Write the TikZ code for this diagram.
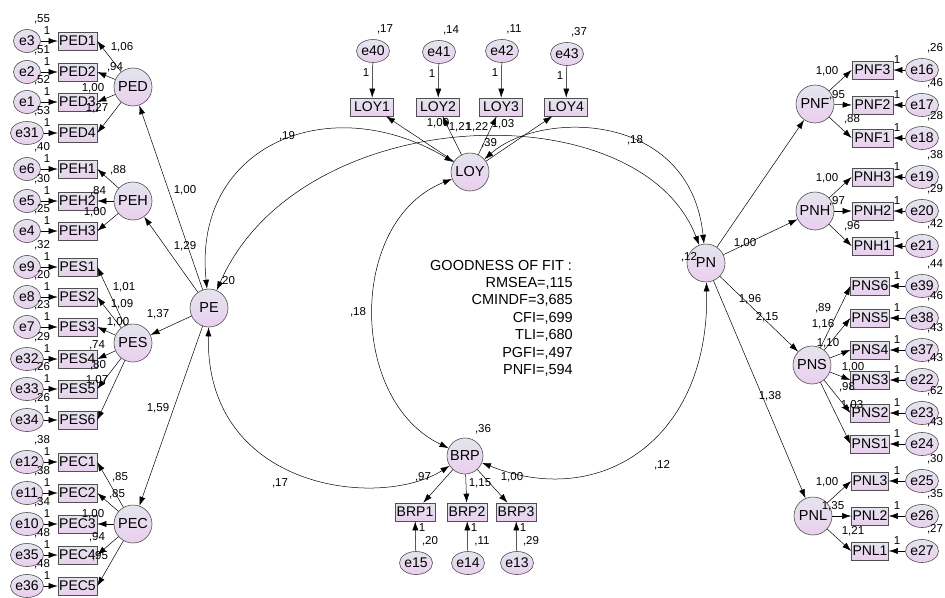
\documentclass[tikz,border=0pt]{standalone}
\usepackage{fontspec}
\setmainfont{Liberation Sans}
\usetikzlibrary{arrows.meta,shapes.geometric}
\definecolor{nodetop}{HTML}{E4E4EE}
\definecolor{nodebot}{HTML}{EACFEE}
\definecolor{edgec}{HTML}{505050}
\begin{document}
\begin{tikzpicture}[x=1pt,y=-1pt,
  base/.style={draw=edgec, line width=0.6pt, top color=nodetop, bottom color=nodebot, inner sep=0pt},
  lat/.style={base, circle, minimum size=38pt, font=\fontsize{14.5}{16}\selectfont},
  err/.style={base, ellipse, minimum width=27pt, minimum height=23pt, font=\fontsize{14}{16}\selectfont},
  obs/.style={base, rectangle, minimum width=39pt, minimum height=18pt, inner xsep=1pt, font=\fontsize{14}{16}\selectfont},
  lbl/.style={font=\fontsize{11.5}{12}\selectfont, inner sep=0pt},
  arr/.style={-{Latex[length=9pt,width=6pt]}, line width=0.5pt},
  cov/.style={{Latex[length=9pt,width=6pt]}-{Latex[length=9pt,width=6pt]}, line width=0.5pt},
]
\useasboundingbox (0,0) rectangle (945,597);

% ---------- left block ----------
\foreach \b/\e/\v/\y in {PED1/e3/55/41, PED2/e2/51/72, PED3/e1/52/102, PED4/e31/53/133,
  PEH1/e6/40/169, PEH2/e5/30/201, PEH3/e4/25/231,
  PES1/e9/32/267, PES2/e8/20/297, PES3/e7/23/327, PES4/e32/29/359, PES5/e33/26/389, PES6/e34/26/420,
  PEC1/e12/38/462, PEC2/e11/38/493, PEC3/e10/34/524, PEC4/e35/48/555, PEC5/e36/48/586}{
  \node[obs] (\b) at (77.5,\y) {\b};
  \node[err] (\e) at (27,\y) {\e};
  \draw[arr] (\e) -- (\b);
  \node[lbl] at (42,\y-22) {,\v};
  \node[lbl] at (47,\y-10) {1};
}
\node[lat] (PED) at (133,87) {PED};
\node[lat] (PEH) at (133,201) {PEH};
\node[lat] (PES) at (133,343) {PES};
\node[lat] (PEC) at (133,524) {PEC};
\foreach \b in {PED1,PED2,PED3,PED4} \draw[arr] (PED) -- (\b.east);
\foreach \b in {PEH1,PEH2,PEH3} \draw[arr] (PEH) -- (\b.east);
\foreach \b in {PES1,PES2,PES3,PES4,PES5,PES6} \draw[arr] (PES) -- (\b.east);
\foreach \b in {PEC1,PEC2,PEC3,PEC4,PEC5} \draw[arr] (PEC) -- (\b.east);

\node[lbl] at (122,47) {1,06};
\node[lbl] at (115,67) {,94};
\node[lbl] at (93,88) {1,00};
\node[lbl] at (97,108) {1,27};
\node[lbl] at (118,170) {,88};
\node[lbl] at (98,191) {,84};
\node[lbl] at (95,212) {1,00};
\node[lbl] at (124,287) {1,01};
\node[lbl] at (122,304) {1,09};
\node[lbl] at (118,322) {1,00};
\node[lbl] at (97,345) {,74};
\node[lbl] at (98,365) {,80};
\node[lbl] at (97,380) {1,07};
\node[lbl] at (120,477) {,85};
\node[lbl] at (117,494) {,85};
\node[lbl] at (93,514) {1,00};
\node[lbl] at (97,537) {,94};
\node[lbl] at (100,556) {,95};

\node[lat] (PE) at (209,308) {PE};
\foreach \f in {PED,PEH,PES,PEC} \draw[arr] (PE) -- (\f);
\node[lbl] at (185,190) {1,00};
\node[lbl] at (185,246) {1,29};
\node[lbl] at (158,314) {1,37};
\node[lbl] at (158,408) {1,59};
\node[lbl] at (227,281) {,20};

% ---------- LOY ----------
\node[lat] (LOY) at (470,172) {LOY};
\foreach \b/\e/\v/\x/\ey in {LOY1/e40/17/372/51, LOY2/e41/14/438/52, LOY3/e42/11/501/51, LOY4/e43/37/566/54}{
  \node[obs, minimum width=43pt] (\b) at (\x,107) {\b};
  \node[err] (\e) at (\x+1,\ey) {\e};
  \draw[arr] (\e) -- (\b);
  \draw[arr] (LOY) -- (\b);
  \node[lbl] at (\x+13,\ey-22) {,\v};
  \node[lbl] at (\x-6,\ey+22) {1};
}
\node[lbl] at (438,123) {1,00};
\node[lbl] at (460,127) {1,21};
\node[lbl] at (477,127) {1,22};
\node[lbl] at (503,124) {1,03};
\node[lbl] at (489,143) {,39};

% ---------- BRP ----------
\node[lat, minimum size=36pt] (BRP) at (465,456) {BRP};
\foreach \b/\e/\v/\x in {BRP1/e15/20/415, BRP2/e14/11/467, BRP3/e13/29/516}{
  \node[obs, minimum width=40pt] (\b) at (\x,512) {\b};
  \node[err] (\e) at (\x+1,563) {\e};
  \draw[arr] (\e) -- (\b);
  \draw[arr] (BRP) -- (\b);
  \node[lbl] at (\x+15,541) {,\v};
  \node[lbl] at (\x+7,528) {1};
}
\node[lbl] at (483,429) {,36};
\node[lbl] at (423,477) {,97};
\node[lbl] at (480,483) {1,15};
\node[lbl] at (512,477) {1,00};

% ---------- right block ----------
\foreach \b/\e/\v/\y/\w in {PNF3/e16/26/70/41, PNF2/e17/46/105/41, PNF1/e18/28/138/41,
  PNH3/e19/38/177/41, PNH2/e20/29/211/41, PNH1/e21/42/246/41,
  PNS6/e39/44/286/36, PNS5/e38/46/318/36, PNS4/e37/43/350/36, PNS3/e22/43/380/36, PNS2/e23/62/413/36, PNS1/e24/43/444/36,
  PNL3/e25/30/481/36, PNL2/e26/35/516/36, PNL1/e27/27/551/36}{
  \node[obs, minimum width=\w pt] (\b) at (852+\w/2,\y) {\b};
  \node[err] (\e) at (922,\y) {\e};
  \draw[arr] (\e) -- (\b);
  \node[lbl] at (935,\y-22) {,\v};
  \node[lbl] at (897,\y-10) {1};
}
\node[lat] (PNF) at (815,104) {PNF};
\node[lat] (PNH) at (815,211) {PNH};
\node[lat] (PNS) at (812,365) {PNS};
\node[lat] (PNL) at (813,516) {PNL};
\foreach \b in {PNF3,PNF2,PNF1} \draw[arr] (PNF) -- (\b.west);
\foreach \b in {PNH3,PNH2,PNH1} \draw[arr] (PNH) -- (\b.west);
\foreach \b in {PNS6,PNS5,PNS4,PNS3,PNS2,PNS1} \draw[arr] (PNS) -- (\b.west);
\foreach \b in {PNL3,PNL2,PNL1} \draw[arr] (PNL) -- (\b.west);

\node[lbl] at (827,71) {1,00};
\node[lbl] at (837,95) {,95};
\node[lbl] at (852,119) {,88};
\node[lbl] at (827,178) {1,00};
\node[lbl] at (837,201) {,97};
\node[lbl] at (852,226) {,96};
\node[lbl] at (823,308) {,89};
\node[lbl] at (823,324) {1,16};
\node[lbl] at (828,343) {1,10};
\node[lbl] at (853,367) {1,00};
\node[lbl] at (847,387) {,98};
\node[lbl] at (852,405) {1,03};
\node[lbl] at (827,482) {1,00};
\node[lbl] at (833,506) {1,35};
\node[lbl] at (853,531) {1,21};

\node[lat] (PN) at (706,263) {PN};
\foreach \f in {PNF,PNH,PNS,PNL} \draw[arr] (PN) -- (\f);
\node[lbl] at (745,243) {1,00};
\node[lbl] at (750,299) {1,96};
\node[lbl] at (767,317) {2,15};
\node[lbl] at (770,396) {1,38};
\node[lbl] at (689,257) {,12};

% ---------- covariances ----------
\draw[cov] (PE) .. controls (192,145) and (330,88) .. (LOY);
\draw[cov] (PE) .. controls (300,100) and (640,90) .. (PN);
\draw[cov] (LOY) .. controls (540,110) and (690,110) .. (PN);
\draw[cov] (LOY) .. controls (348,220) and (348,400) .. (BRP);
\draw[cov] (PE) .. controls (205,490) and (380,510) .. (BRP);
\draw[cov] (BRP) .. controls (600,510) and (710,440) .. (PN);
\node[lbl] at (287,136) {,19};
\node[lbl] at (635,140) {,18};
\node[lbl] at (358,312) {,18};
\node[lbl] at (280,483) {,17};
\node[lbl] at (662,465) {,12};

% ---------- fit ----------
\node[anchor=base west, inner sep=0pt, font=\fontsize{14.5}{16}\selectfont] (gof) at (430,270) {GOODNESS OF FIT :};
\node[anchor=north east, inner sep=0pt, align=right, font=\fontsize{14.5}{17.5}\selectfont] (fit) at (573,277)
  {RMSEA=,115\\CMINDF=3,685\\CFI=,699\\TLI=,680\\PGFI=,497\\PNFI=,594};
\end{tikzpicture}
\end{document}
